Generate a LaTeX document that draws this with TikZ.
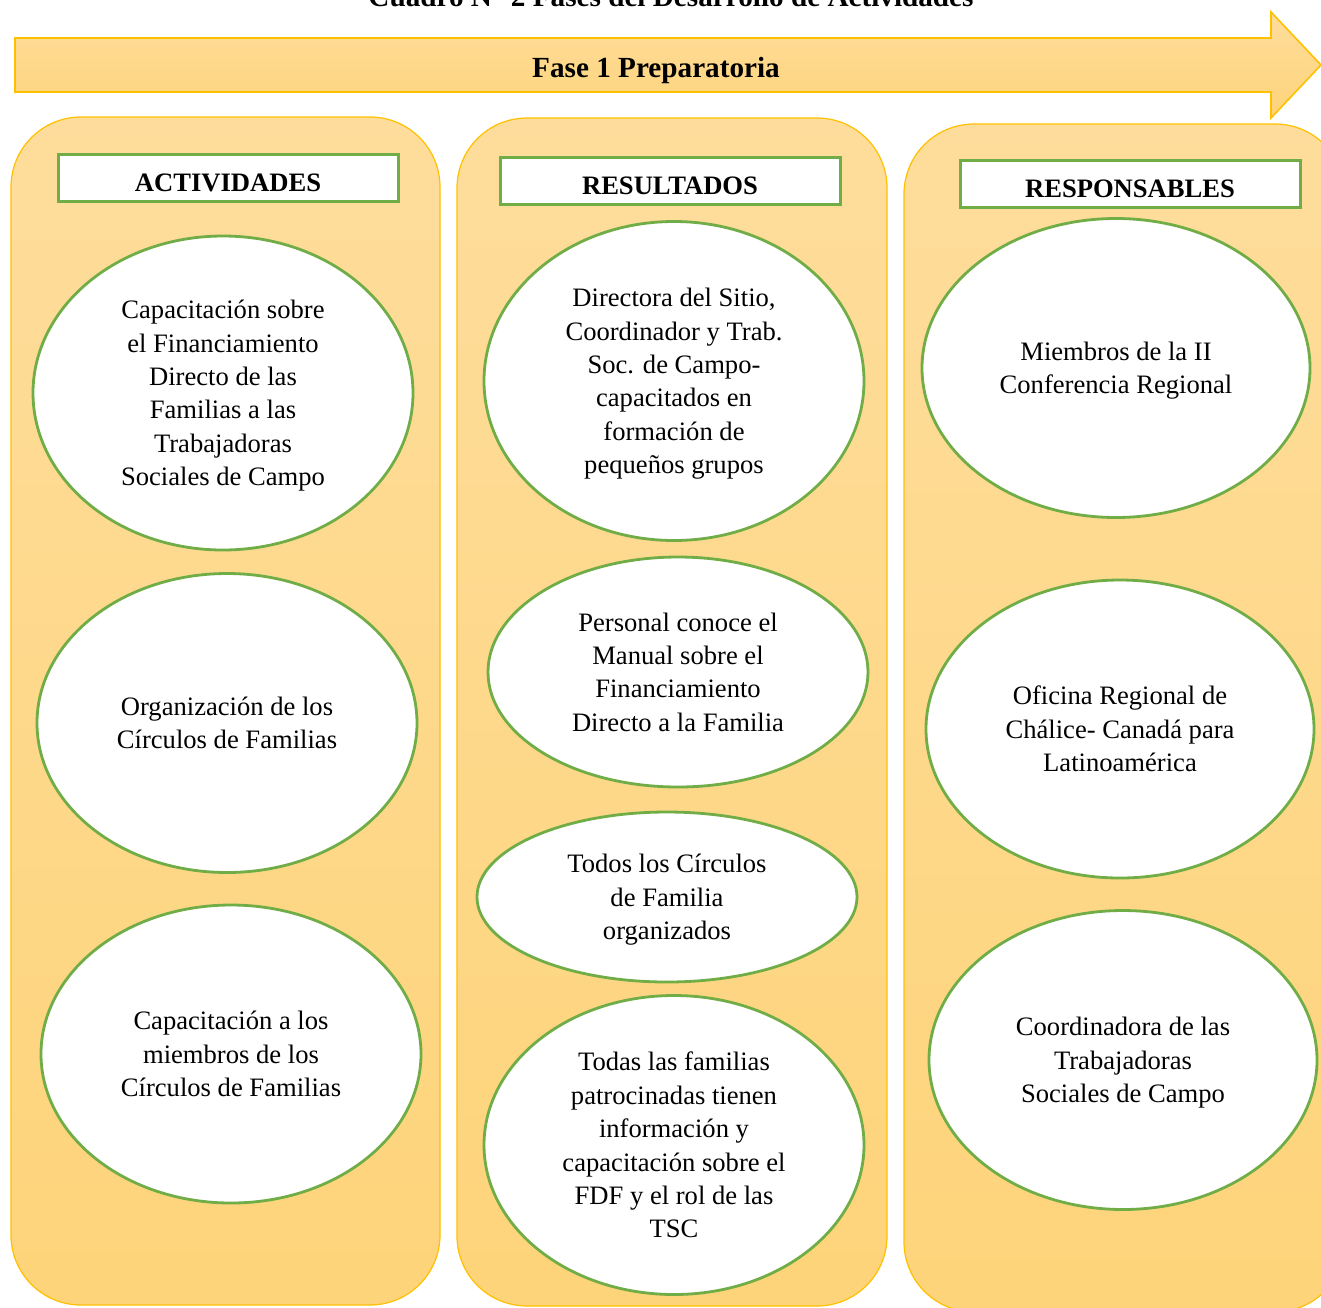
\documentclass[tikz,border=0pt]{standalone}
\usepackage{fontspec}
\setmainfont{Liberation Serif}
\usepackage{xcolor}
\usetikzlibrary{shapes.geometric,positioning}
\definecolor{gold}{HTML}{FFC000}
\definecolor{leafgreen}{HTML}{70AD47}
\definecolor{paletop}{HTML}{FEDD9C}
\definecolor{palebot}{HTML}{FED47A}
\tikzset{
    colbox/.style={
        draw=gold,
        line width=0.6pt,
        rounded corners=35pt,
        top color=paletop,
        bottom color=palebot
    },
    headbox/.style={
        draw=leafgreen,
        line width=1.5pt,
        fill=white,
        minimum width=170pt,
        minimum height=23.5pt,
        text height=13pt,
        text depth=0pt,
        font=\bfseries\fontsize{13.3}{16}\selectfont
    },
    bubble/.style={
        ellipse,
        draw=leafgreen,
        line width=1.4pt,
        fill=white,
        inner sep=0pt,
        align=center,
        text depth=0pt,
        minimum width=190pt,
        font=\fontsize{13.3}{16.7}\selectfont
    }
}

\begin{document}
\begin{tikzpicture}[x=0.5pt,y=-0.5pt
        ]
        \useasboundingbox (0,0) rectangle (1321,1307);
        % draw title
        \node[anchor=base,font=\bfseries\fontsize{14.6}{17}\selectfont] (title) at (671,6) {Cuadro N° 2 Fases del Desarrollo de Actividades};

        % draw phase arrow
        \draw[draw=gold,line width=0.8pt,top color=paletop,bottom color=palebot]
            (15,38) -- (1271,38) -- (1271,12) -- (1321,65) -- (1271,118) -- (1271,92) -- (15,92) -- cycle;
        \node[text depth=0pt,font=\bfseries\fontsize{14.6}{17}\selectfont] (fase) at (656,67) {Fase 1 Preparatoria};

        % draw columns
        \foreach \xa/\ya/\xb/\yb in {11/117/440/1305, 457/118/887/1306, 904/124/1345/1312}
        {
            \draw[colbox] (\xa,\ya) rectangle (\xb,\yb);
        }

        % draw headers
        \node[headbox] (hact) at (228,178) {ACTIVIDADES};
        \node[headbox] (hres) at (670,181) {RESULTADOS};
        \node[headbox] (hresp) at (1130,184) {RESPONSABLES};

        % draw activities
        \node[bubble,minimum height=157pt] (act1) at (223,393) {Capacitación sobre\\el Financiamiento\\Directo de las\\Familias a las\\Trabajadoras\\Sociales de Campo};
        \node[bubble,minimum height=149.5pt] (act2) at (227,723) {Organización de los\\Círculos de Familias};
        \node[bubble,minimum height=149pt] (act3) at (231,1054) {Capacitación a los\\miembros de los\\Círculos de Familias};

        % draw results
        \node[bubble,minimum height=159.5pt] (res1) at (674,381) {Directora del Sitio,\\Coordinador y Trab.\\Soc. de Campo-\\capacitados en\\formación de\\pequeños grupos};
        \node[bubble,minimum height=115pt] (res2) at (678,672) {Personal conoce el\\Manual sobre el\\Financiamiento\\Directo a la Familia};
        \node[bubble,minimum height=85pt] (res3) at (667,897) {Todos los Círculos\\de Familia\\organizados};
        \node[bubble,minimum height=149.5pt] (res4) at (674,1145) {Todas las familias\\patrocinadas tienen\\información y\\capacitación sobre el\\FDF y el rol de las\\TSC};

        % draw responsibles
        \node[bubble,minimum width=194pt,minimum height=149.5pt] (resp1) at (1116,368) {Miembros de la II\\Conferencia Regional};
        \node[bubble,minimum width=194pt,minimum height=149pt] (resp2) at (1120,729) {Oficina Regional de\\Chálice- Canadá para\\Latinoamérica};
        \node[bubble,minimum width=194pt,minimum height=149.5pt] (resp3) at (1123,1060) {Coordinadora de las\\Trabajadoras\\Sociales de Campo};
    \end{tikzpicture}
\end{document}
